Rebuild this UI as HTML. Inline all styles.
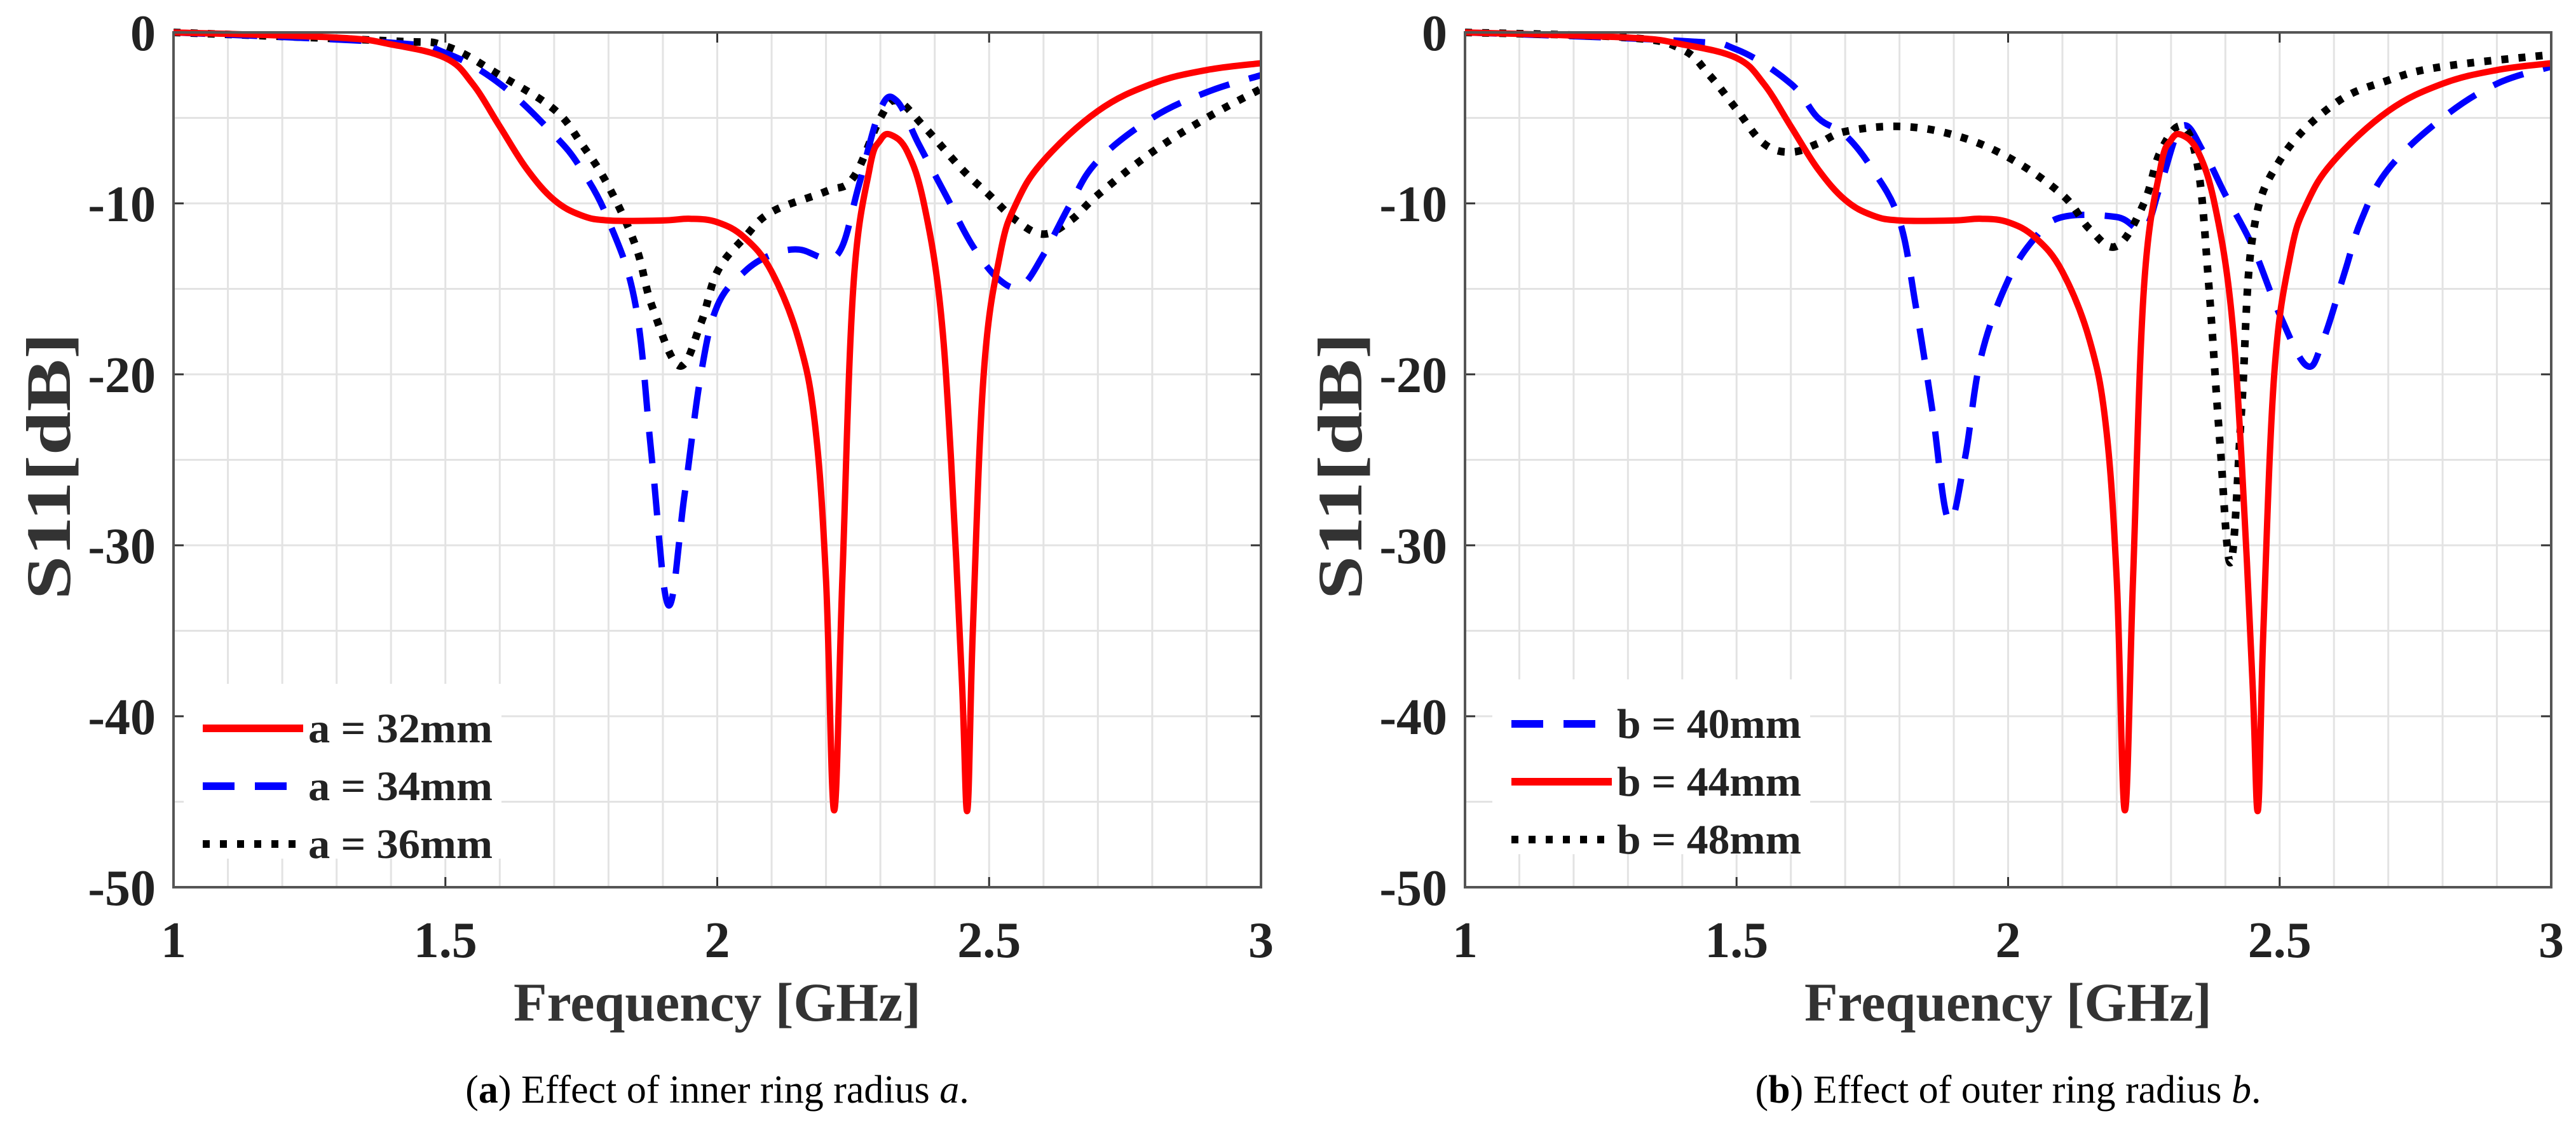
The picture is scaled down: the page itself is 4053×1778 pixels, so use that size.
<!DOCTYPE html>
<html><head><meta charset="utf-8">
<style>
html,body{margin:0;padding:0;background:#fff;}
svg{display:block;}
text{font-family:"Liberation Serif","DejaVu Serif",serif;}
</style></head>
<body>
<svg id="fig" width="4053" height="1778" viewBox="0 0 4053 1778" xmlns="http://www.w3.org/2000/svg"></svg>
<script>
const xTicks=[1,1.5,2,2.5,3];
const xTickLabels=["1","1.5","2","2.5","3"];
const yTicks=[0,-10,-20,-30,-40,-50];
const yTickLabels=["0","-10","-20","-30","-40","-50"];
const redF=[1,1.3,1.4,1.5,1.55,1.6,1.65,1.7,1.75,1.8,1.9,1.95,2.0,2.05,2.1,2.15,2.18,2.2,2.215,2.23,2.25,2.28,2.3,2.32,2.35,2.38,2.41,2.43,2.45,2.46,2.47,2.49,2.52,2.55,2.6,2.7,2.8,2.9,3];
const redV=[0,-0.3,-0.7,-1.5,-3,-5.5,-8,-9.8,-10.7,-11,-11,-10.9,-11.1,-12,-14,-18,-23,-32,-45.5,-32,-15,-8,-6.3,-6,-7,-10,-16,-25,-38,-45.5,-35,-20,-13,-10,-7.5,-4.6,-3,-2.2,-1.8];
const a34F=[1,1.4,1.5,1.6,1.7,1.75,1.8,1.85,1.88,1.91,1.94,1.97,2.0,2.05,2.1,2.15,2.2,2.23,2.26,2.3,2.33,2.37,2.42,2.47,2.52,2.56,2.6,2.65,2.7,2.8,2.9,3];
const a34V=[0,-0.6,-1.2,-3,-6,-8,-11,-16,-25,-33.5,-27,-20,-16,-14,-13,-12.7,-13.2,-12.5,-9,-4.5,-4,-6.5,-9.5,-12.5,-14.5,-14.8,-13,-10,-7.5,-5,-3.5,-2.5];
const a36F=[1,1.4,1.5,1.6,1.7,1.75,1.8,1.85,1.88,1.93,1.97,2.0,2.05,2.1,2.2,2.25,2.3,2.33,2.38,2.45,2.5,2.55,2.6,2.65,2.7,2.8,2.9,3];
const a36V=[0,-0.5,-0.8,-2.5,-4.5,-6.5,-9,-12.5,-16,-19.5,-17,-14,-12,-10.5,-9.3,-8.5,-5,-4,-5.5,-8,-9.5,-11,-11.8,-11,-9.5,-7,-5,-3.3];
const b40F=[1,1.4,1.5,1.6,1.65,1.7,1.75,1.8,1.83,1.86,1.89,1.92,1.95,2.0,2.05,2.1,2.2,2.25,2.28,2.32,2.36,2.4,2.45,2.5,2.55,2.58,2.62,2.65,2.7,2.8,2.9,3];
const b40V=[0,-0.5,-1,-3,-5,-6,-8,-11,-16,-22,-28.5,-25,-19,-14.5,-12,-10.8,-10.8,-11.5,-9,-5.5,-7,-9.5,-12.5,-16.5,-19.5,-18,-14,-11,-8,-5,-3,-2];
const b48F=[1,1.3,1.4,1.45,1.5,1.55,1.6,1.65,1.7,1.8,1.9,2.0,2.1,2.15,2.2,2.25,2.28,2.32,2.35,2.37,2.39,2.41,2.43,2.45,2.5,2.6,2.7,2.8,3];
const b48V=[0,-0.3,-1,-2.5,-4.5,-6.5,-7,-6.5,-5.8,-5.5,-6,-7.3,-9.5,-11.5,-12.5,-10,-7,-5.5,-8,-15,-24,-31,-22,-12,-7.5,-4.2,-2.8,-2,-1.3];

const NS="http://www.w3.org/2000/svg";
const svg=document.getElementById('fig');
function el(t,a,p){const e=document.createElementNS(NS,t);for(const k in a)e.setAttribute(k,a[k]);(p||svg).appendChild(e);return e;}
const styles={
 red:{stroke:"#ff0000",dash:"none"},
 blue:{stroke:"#0000ff",dash:"50 32"},
 black:{stroke:"#000000",dash:"11 16"}
};
function smoothPath(pts){
 let d="M"+pts[0][0]+","+pts[0][1];
 for(let i=0;i<pts.length-1;i++){
  const p0=pts[Math.max(0,i-1)],p1=pts[i],p2=pts[i+1],p3=pts[Math.min(pts.length-1,i+2)];
  const t=0.18;
  const c1=[p1[0]+(p2[0]-p0[0])*t,p1[1]+(p2[1]-p0[1])*t];
  const c2=[p2[0]-(p3[0]-p1[0])*t,p2[1]-(p3[1]-p1[1])*t];
  d+=" C"+c1[0].toFixed(1)+","+c1[1].toFixed(1)+" "+c2[0].toFixed(1)+","+c2[1].toFixed(1)+" "+p2[0].toFixed(1)+","+p2[1].toFixed(1);
 }
 return d;
}
function panel(id,L,R,T,B,series,legend,caption,capBold,capVar){
 const g=el('g',{});
 
 
 const X=f=>L+(f-1)/2*(R-L);
 const Y=v=>T+(-v)/50*(B-T);
 el('rect',{x:L,y:T,width:R-L,height:B-T,fill:"#fff"},g);
 const grid=el('g',{stroke:"#e3e3e3","stroke-width":3},g);
 
 
 for(let i=1;i<20;i++){const x=X(1+i*0.1);el('line',{x1:x,x2:x,y1:T,y2:B},grid);}
 for(let i=1;i<10;i++){const y=Y(-i*5);el('line',{x1:L,x2:R,y1:y,y2:y},grid);}
 const tk=el('g',{stroke:"#333","stroke-width":3},g);
 xTicks.forEach(f=>{el('line',{x1:X(f),x2:X(f),y1:B,y2:B-16},tk);el('line',{x1:X(f),x2:X(f),y1:T,y2:T+16},tk);});
 yTicks.forEach(v=>{el('line',{x1:L,x2:L+16,y1:Y(v),y2:Y(v)},tk);el('line',{x1:R,x2:R-16,y1:Y(v),y2:Y(v)},tk);});
 xTicks.forEach((f,i)=>{const t=el('text',{x:X(f),y:B+110,"font-size":80,"font-weight":"bold","text-anchor":"middle",fill:"#222"},g);t.textContent=xTickLabels[i];
  
  });
 yTicks.forEach((v,i)=>{const t=el('text',{x:L-28,y:Y(v)+28,"font-size":80,"font-weight":"bold","text-anchor":"end",fill:"#222"},g);t.textContent=yTickLabels[i];
  
  });
 const xt=el('text',{x:(L+R)/2,y:B+210,"font-size":86,"font-weight":"bold","text-anchor":"middle",fill:"#333"},g);
 xt.textContent="Frequency [GHz]";
 
 
 const cy=(T+B)/2+10;
 const yx=L-195;
 const yt=el('text',{x:yx,y:cy,"font-size":100,"font-weight":"bold","text-anchor":"middle",fill:"#333",transform:`rotate(-90 ${yx} ${cy})`,dy:32,textLength:420,lengthAdjust:"spacingAndGlyphs"},g);
 yt.textContent="S11[dB]";
 
 
 series.forEach(s=>{
  const pts=s.f.map((f,i)=>[X(f),Y(s.v[i])]);
  const p=el('path',{d:smoothPath(pts),fill:"none",stroke:styles[s.st].stroke,"stroke-width":s.st==="black"?12:10,"stroke-dasharray":styles[s.st].dash,"stroke-linejoin":"round"},g);
  
  
 });
 el('rect',{x:L,y:T,width:R-L,height:B-T,fill:"none",stroke:"#555","stroke-width":4},g);
 const lg=el('g',{},g);
 
 
 el('rect',{x:legend.x-30,y:legend.y-70,width:500,height:275,fill:"#fff"},lg);
 legend.items.forEach((it,i)=>{
  const y=legend.y+i*91;
  el('line',{x1:legend.x,x2:legend.x+158,y1:y,y2:y,stroke:styles[it.st].stroke,"stroke-width":12,"stroke-dasharray":styles[it.st].dash},lg);
  const t=el('text',{x:legend.x+166,y:y+22,"font-size":66,"font-weight":"bold",fill:"#222",textLength:290,lengthAdjust:"spacingAndGlyphs"},lg);
  t.textContent=it.label;
  
  
 });
 const c=el('text',{x:(L+R)/2,y:1735,"font-size":62,"text-anchor":"middle",fill:"#000"},g);
 
 
 const s1=el('tspan',{},c);s1.textContent="(";
 const s2=el('tspan',{"font-weight":"bold"},c);s2.textContent=capBold;
 const s3=el('tspan',{},c);s3.textContent=") "+caption+" ";
 const s4=el('tspan',{"font-style":"italic"},c);s4.textContent=capVar;
 const s5=el('tspan',{},c);s5.textContent=".";
}
panel('panel-a',273,1984,51,1396,
 [{f:a36F,v:a36V,st:"black",name:"series-a-36mm"},{f:a34F,v:a34V,st:"blue",name:"series-a-34mm"},{f:redF,v:redV,st:"red",name:"series-a-32mm"}],
 {x:319,y:1146,items:[{st:"red",label:"a = 32mm"},{st:"blue",label:"a = 34mm"},{st:"black",label:"a = 36mm"}]},
 "Effect of inner ring radius","a","a");
panel('panel-b',2305,4014,51,1396,
 [{f:b40F,v:b40V,st:"blue",name:"series-b-40mm"},{f:b48F,v:b48V,st:"black",name:"series-b-48mm"},{f:redF,v:redV,st:"red",name:"series-b-44mm"}],
 {x:2378,y:1139,items:[{st:"blue",label:"b = 40mm"},{st:"red",label:"b = 44mm"},{st:"black",label:"b = 48mm"}]},
 "Effect of outer ring radius","b","b");
</script>
</body></html>
